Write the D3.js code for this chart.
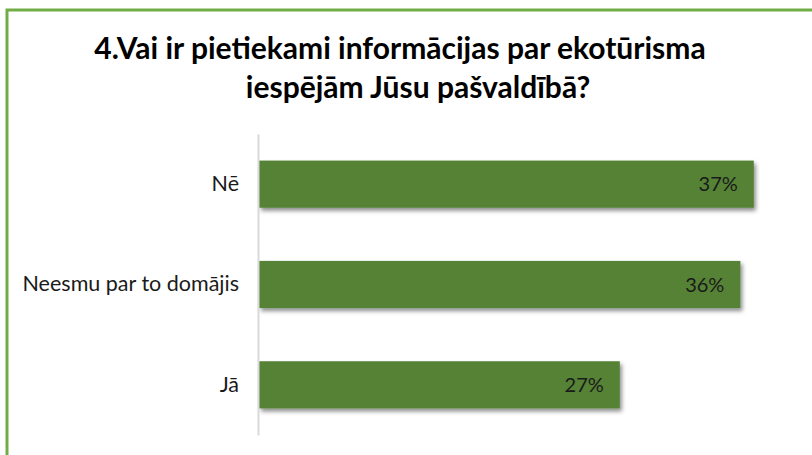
<!DOCTYPE html>
<html>
<head>
<meta charset="utf-8">
<script src="https://cdn.jsdelivr.net/npm/d3@7"></script>
<style>
  body { margin: 0; background: #fff; }
  svg { display: block; }
</style>
</head>
<body>
<div id="chart"></div>
<script>
// Data
var categories = ["Nē", "Neesmu par to domājis", "Jā"];
var values = [37, 36, 27];
var titleLines = ["4.Vai ir pietiekami informācijas par ekotūrisma", "iespējām Jūsu pašvaldībā?"];

var w = 812;
var h = 455;

var svg = d3.select("#chart")
    .append("svg")
    .attr("width", w)
    .attr("height", h);

// drop shadow for bars
var defs = svg.append("defs");
var filter = defs.append("filter")
    .attr("id", "shadow")
    .attr("x", "-5%").attr("y", "-20%")
    .attr("width", "115%").attr("height", "160%");
filter.append("feDropShadow")
    .attr("dx", 2)
    .attr("dy", 3)
    .attr("stdDeviation", 2)
    .attr("flood-color", "#000")
    .attr("flood-opacity", 0.45);

// frame (only top and left visible)
svg.append("rect")
    .attr("x", 7)
    .attr("y", 10)
    .attr("width", 900)
    .attr("height", 900)
    .attr("fill", "none")
    .attr("stroke", "#70ad47")
    .attr("stroke-width", 3);

// title
svg.append("text")
    .attr("x", 400)
    .attr("y", 59)
    .attr("text-anchor", "middle")
    .style("font-family", "Lato, 'Open Sans', sans-serif")
    .style("font-weight", "bold")
    .style("font-size", "30px")
    .attr("fill", "#000")
    .text(titleLines[0]);

svg.append("text")
    .attr("x", 418)
    .attr("y", 98)
    .attr("text-anchor", "middle")
    .style("font-family", "Lato, 'Open Sans', sans-serif")
    .style("font-weight", "bold")
    .style("font-size", "30px")
    .attr("fill", "#000")
    .text(titleLines[1]);

//Create scale functions
var xScale = d3.scaleLinear()
    .domain([0, 40])
    .range([258, 794]);

var yScale = d3.scaleBand()
    .domain(categories)
    .range([134, 435])
    .paddingInner(0.53)
    .paddingOuter(0.265);

// bars
svg.selectAll("rect.bar")
    .data(values)
    .enter()
    .append("rect")
    .attr("class", "bar")
    .attr("x", xScale(0) + 1)
    .attr("y", function (d, i) { return yScale(categories[i]); })
    .attr("width", function (d) { return xScale(d) - xScale(0) - 1; })
    .attr("height", yScale.bandwidth())
    .attr("fill", "#548235")
    .attr("filter", "url(#shadow)");

// value labels
svg.selectAll("text.val")
    .data(values)
    .enter()
    .append("text")
    .attr("class", "val")
    .attr("x", function (d) { return xScale(d) - 16; })
    .attr("y", function (d, i) { return yScale(categories[i]) + yScale.bandwidth() / 2; })
    .attr("dy", "0.36em")
    .attr("text-anchor", "end")
    .style("font-family", "Lato, 'Open Sans', sans-serif")
    .style("font-size", "20px")
    .attr("fill", "#1a1a1a")
    .text(function (d) { return d + "%"; });

// category axis
var yAxis = d3.axisLeft(yScale)
    .tickSize(0)
    .tickPadding(19);

var gy = svg.append("g")
    .attr("transform", "translate(" + xScale(0) + ",0)")
    .call(yAxis);

gy.select(".domain")
    .attr("stroke", "#d9d9d9")
    .attr("stroke-width", 2);

gy.selectAll("text")
    .style("font-family", "Lato, 'Open Sans', sans-serif")
    .style("font-size", "21.5px")
    .attr("fill", "#1a1a1a");
</script>
</body>
</html>
